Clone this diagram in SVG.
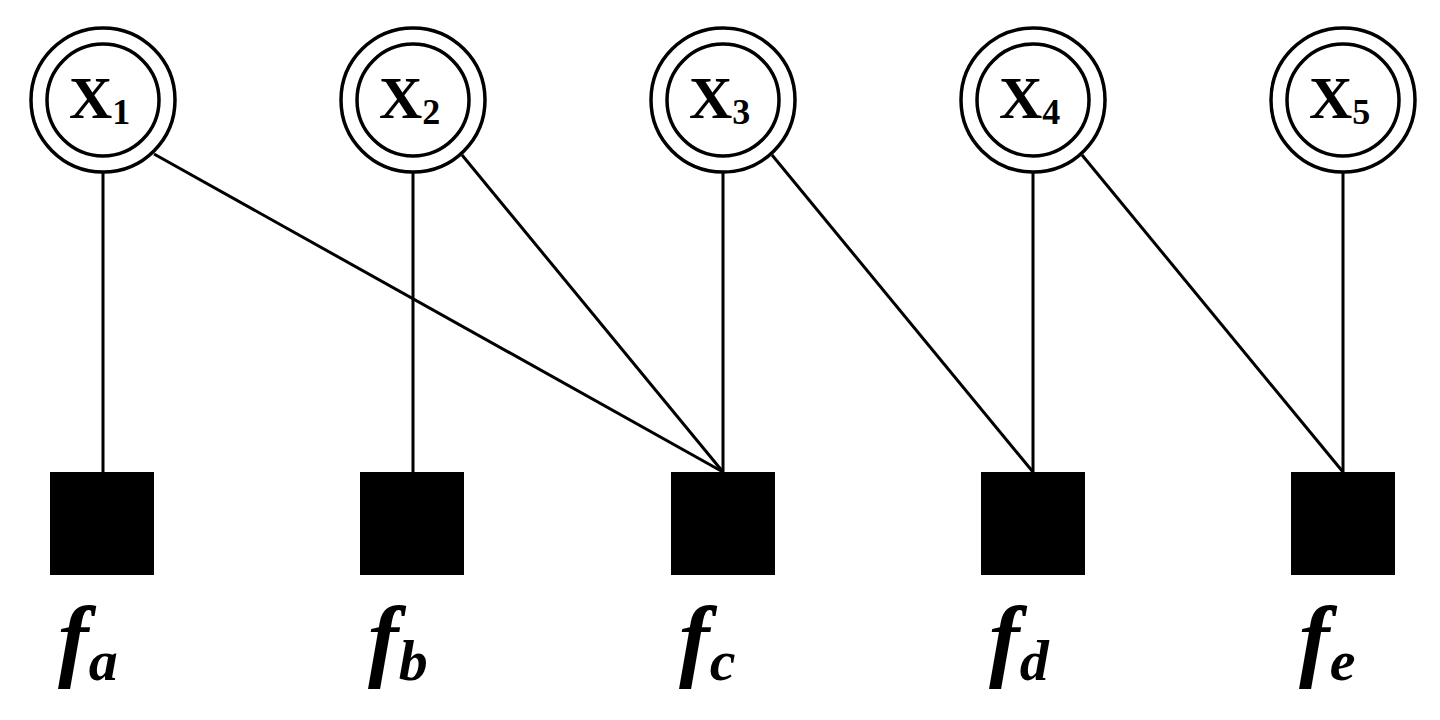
<svg xmlns="http://www.w3.org/2000/svg" width="1440" height="720" viewBox="0 0 1440 720">
<style>
.ring{fill:#fff;stroke:#000;stroke-width:3.5}
.box{fill:#000}
.edge{stroke:#000;stroke-width:3;fill:none}
.var{font-family:"Liberation Serif","Times New Roman",serif;font-weight:bold;font-size:60px;fill:#000}
.sub{font-size:36px}
.fl{font-family:"Liberation Serif","Times New Roman",serif;font-weight:bold;font-style:italic;font-size:92px;fill:#000}
.fs{font-size:58px}
</style>
<rect width="1440" height="720" fill="#fff"/>
<g id="connectors">
<line class="edge" x1="103" y1="173" x2="103" y2="472"/>
<line class="edge" x1="413" y1="173" x2="413" y2="472"/>
<line class="edge" x1="723" y1="173" x2="723" y2="472"/>
<line class="edge" x1="1033" y1="173" x2="1033" y2="472"/>
<line class="edge" x1="1343" y1="173" x2="1343" y2="472"/>
<line class="edge" x1="154" y1="154" x2="723" y2="472"/>
<line class="edge" x1="462" y1="155" x2="723" y2="472"/>
<line class="edge" x1="772" y1="155" x2="1033" y2="472"/>
<line class="edge" x1="1082" y1="155" x2="1343" y2="472"/>
</g>
<g id="X1"><circle class="ring" cx="103" cy="100" r="72"/><circle class="ring" cx="103" cy="100" r="56"/><text class="var" x="69" y="118">X<tspan class="sub" dy="6">1</tspan></text></g>
<g id="X2"><circle class="ring" cx="413" cy="100" r="72"/><circle class="ring" cx="413" cy="100" r="56"/><text class="var" x="379" y="118">X<tspan class="sub" dy="6">2</tspan></text></g>
<g id="X3"><circle class="ring" cx="723" cy="100" r="72"/><circle class="ring" cx="723" cy="100" r="56"/><text class="var" x="689" y="118">X<tspan class="sub" dy="6">3</tspan></text></g>
<g id="X4"><circle class="ring" cx="1033" cy="100" r="72"/><circle class="ring" cx="1033" cy="100" r="56"/><text class="var" x="999" y="118">X<tspan class="sub" dy="6">4</tspan></text></g>
<g id="X5"><circle class="ring" cx="1343" cy="100" r="72"/><circle class="ring" cx="1343" cy="100" r="56"/><text class="var" x="1309" y="118">X<tspan class="sub" dy="6">5</tspan></text></g>
<g id="fa"><rect class="box" x="50" y="472" width="104" height="103"/><text class="fl" x="58" y="670">f<tspan class="fs" dy="10">a</tspan></text></g>
<g id="fb"><rect class="box" x="360" y="472" width="104" height="103"/><text class="fl" x="368" y="670">f<tspan class="fs" dy="10">b</tspan></text></g>
<g id="fc"><rect class="box" x="671" y="472" width="104" height="103"/><text class="fl" x="679" y="670">f<tspan class="fs" dy="10">c</tspan></text></g>
<g id="fd"><rect class="box" x="981" y="472" width="104" height="103"/><text class="fl" x="989" y="670">f<tspan class="fs" dy="10">d</tspan></text></g>
<g id="fe"><rect class="box" x="1291" y="472" width="104" height="103"/><text class="fl" x="1299" y="670">f<tspan class="fs" dy="10">e</tspan></text></g>
</svg>
